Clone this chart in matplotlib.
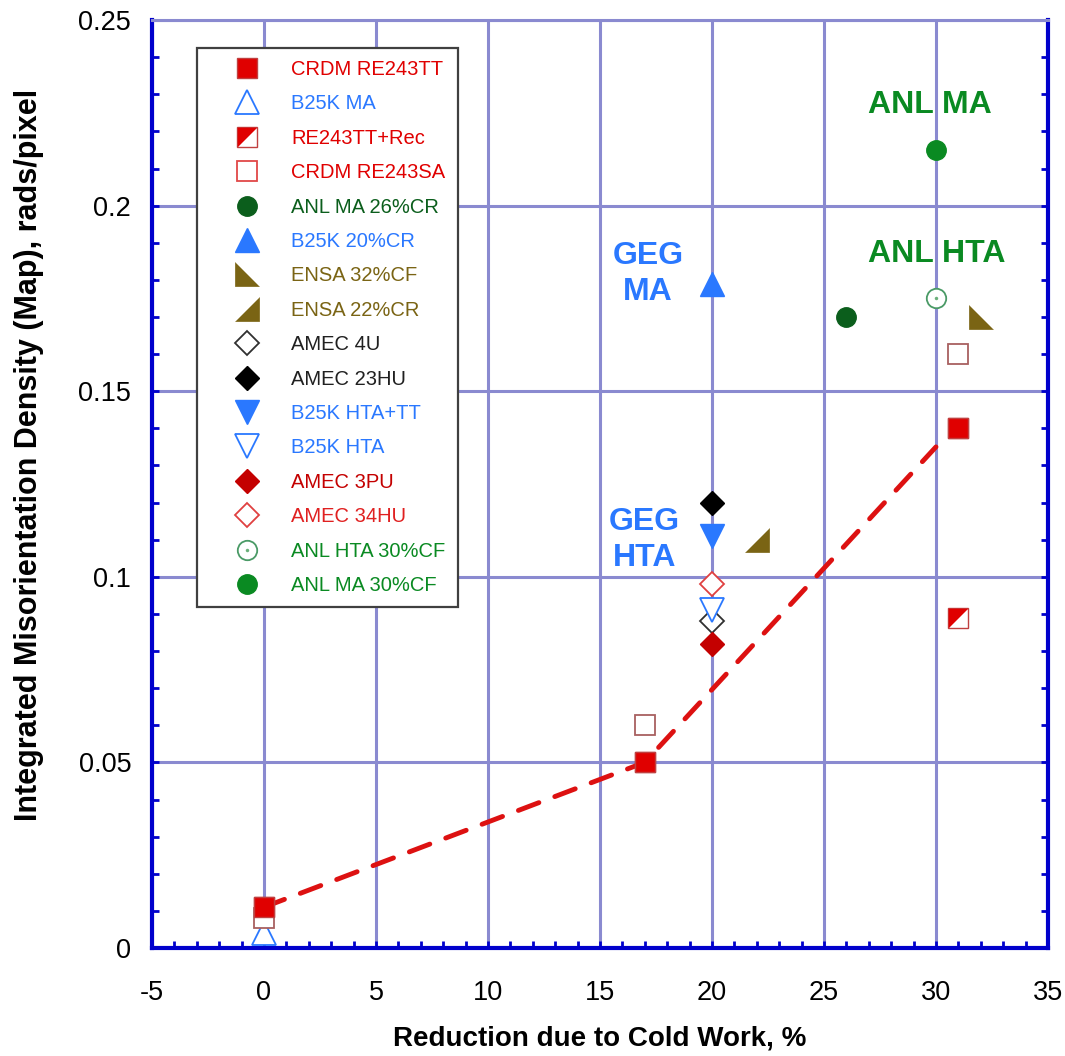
import numpy as np
import matplotlib
matplotlib.use("Agg")
import matplotlib.pyplot as plt
from matplotlib.lines import Line2D
from matplotlib.legend_handler import HandlerTuple
from matplotlib.ticker import MultipleLocator, FixedLocator, FixedFormatter

plt.rcParams['font.family'] = ['Liberation Sans', 'DejaVu Sans']
plt.rcParams['axes.unicode_minus'] = False

# data
crdm_tt_x = [0, 17, 31]
crdm_tt_y = [0.011, 0.050, 0.140]
b25k_ma_x = [0]
b25k_ma_y = [0.004]
rec_x = [31]
rec_y = [0.089]
crdm_sa_x = [0, 17, 31]
crdm_sa_y = [0.008, 0.060, 0.160]
anl_ma26_x = [26]
anl_ma26_y = [0.170]
b25k_20_x = [20]
b25k_20_y = [0.179]
ensa32_x = [32]
ensa32_y = [0.170]
ensa22_x = [22]
ensa22_y = [0.110]
amec4u_x = [20]
amec4u_y = [0.088]
amec23_x = [20]
amec23_y = [0.120]
b25k_htatt_x = [20]
b25k_htatt_y = [0.111]
b25k_hta_x = [20]
b25k_hta_y = [0.091]
amec3pu_x = [20]
amec3pu_y = [0.082]
amec34_x = [20]
amec34_y = [0.098]
anl_hta30_x = [30]
anl_hta30_y = [0.175]
anl_ma30_x = [30]
anl_ma30_y = [0.215]

trend_x = [0, 17, 30]
trend_y = [0.011, 0.050, 0.135]

xticks = [-5, 0, 5, 10, 15, 20, 25, 30, 35]
yticks = [0, 0.05, 0.1, 0.15, 0.2, 0.25]
ytick_labels = ['0', '0.05', '0.1', '0.15', '0.2', '0.25']

RED = '#e00000'
BLUE = '#2a78ff'
DKGREEN = '#0b5e1c'
GREEN = '#0a8a22'
OLIVE = '#7a6414'
DKRED = '#c40000'
GRID = '#8a8ad0'
SPINE = '#0000cc'

tri_ul = [(-1, 1), (1, 1), (-1, -1)]      # upper-left half of a square
ensa32_m = [(-1, 1), (-1, -1), (1, -1)]
ensa22_m = [(1, 1), (1, -1), (-1, -1)]

fig = plt.figure(figsize=(10.65, 10.56), dpi=100)
ax = fig.add_axes([0.1427, 0.1023, 0.8413, 0.8787])

ax.plot(trend_x, trend_y, color='#dd1111', lw=3.5, ls=(0, (4.5, 3.5)),
        dash_capstyle='round', zorder=2)

ms = 14
series = [
    # label, x, y, style, text colour
    ('CRDM RE243TT', crdm_tt_x, crdm_tt_y,
     dict(marker='s', mfc=RED, mec='#c04040', mew=1.0, ms=ms), RED),
    ('B25K MA', b25k_ma_x, b25k_ma_y,
     dict(marker='^', mfc='white', mec=BLUE, mew=1.3, ms=ms + 3), BLUE),
    ('RE243TT+Rec', rec_x, rec_y, None, RED),
    ('CRDM RE243SA', crdm_sa_x, crdm_sa_y,
     dict(marker='s', mfc='white', mec='#a86060', mew=1.3, ms=ms), RED),
    ('ANL MA 26%CR', anl_ma26_x, anl_ma26_y,
     dict(marker='o', mfc=DKGREEN, mec=DKGREEN, mew=1.0, ms=ms), DKGREEN),
    ('B25K 20%CR', b25k_20_x, b25k_20_y,
     dict(marker='^', mfc=BLUE, mec=BLUE, mew=1.0, ms=ms + 3), BLUE),
    ('ENSA 32%CF', ensa32_x, ensa32_y,
     dict(marker=ensa32_m, mfc=OLIVE, mec=OLIVE, mew=0.5, ms=ms + 3), OLIVE),
    ('ENSA 22%CR', ensa22_x, ensa22_y,
     dict(marker=ensa22_m, mfc=OLIVE, mec=OLIVE, mew=0.5, ms=ms + 3), OLIVE),
    ('AMEC 4U', amec4u_x, amec4u_y,
     dict(marker='D', mfc='white', mec='#303030', mew=1.3, ms=ms - 2), '#202020'),
    ('AMEC 23HU', amec23_x, amec23_y,
     dict(marker='D', mfc='black', mec='black', mew=1.0, ms=ms - 2), '#202020'),
    ('B25K HTA+TT', b25k_htatt_x, b25k_htatt_y,
     dict(marker='v', mfc=BLUE, mec=BLUE, mew=1.0, ms=ms + 3), BLUE),
    ('B25K HTA', b25k_hta_x, b25k_hta_y,
     dict(marker='v', mfc='white', mec=BLUE, mew=1.3, ms=ms + 3), BLUE),
    ('AMEC 3PU', amec3pu_x, amec3pu_y,
     dict(marker='D', mfc=DKRED, mec=DKRED, mew=1.0, ms=ms - 2), DKRED),
    ('AMEC 34HU', amec34_x, amec34_y,
     dict(marker='D', mfc='white', mec='#e04040', mew=1.3, ms=ms - 2), '#e02020'),
    ('ANL HTA 30%CF', anl_hta30_x, anl_hta30_y, None, GREEN),
    ('ANL MA 30%CF', anl_ma30_x, anl_ma30_y,
     dict(marker='o', mfc=GREEN, mec=GREEN, mew=1.0, ms=ms), GREEN),
]

handles = []
labels = []
text_colors = []
z = 3
for label, xs, ys, style, tcol in series:
    if label == 'RE243TT+Rec':
        sq = dict(marker='s', mfc='white', mec='#c04040', mew=1.0, ms=ms, ls='none')
        tr = dict(marker=tri_ul, mfc=RED, mec=RED, mew=0, ms=ms, ls='none')
        ax.plot(xs, ys, zorder=z, **sq)
        ax.plot(xs, ys, zorder=z, **tr)
        h = (Line2D([], [], **sq), Line2D([], [], **tr))
    elif label == 'ANL HTA 30%CF':
        ci = dict(marker='o', mfc='white', mec='#4a9a66', mew=1.3, ms=ms, ls='none')
        dot = dict(marker='o', mfc='#6ab07a', mec='none', ms=2.5, ls='none')
        ax.plot(xs, ys, zorder=z, **ci)
        ax.plot(xs, ys, zorder=z, **dot)
        h = (Line2D([], [], **ci), Line2D([], [], **dot))
    else:
        ax.plot(xs, ys, ls='none', zorder=z, **style)
        st = dict(style)
        if label == 'CRDM RE243SA':
            st['mec'] = '#e04848'
        h = Line2D([], [], ls='none', **st)
    handles.append(h)
    labels.append(label)
    text_colors.append(tcol)
    z += 0.01

# red filled squares drawn on top
ax.plot(crdm_tt_x, crdm_tt_y, ls='none', zorder=5, marker='s', mfc=RED,
        mec='#c04040', mew=1.0, ms=ms)

leg = ax.legend(handles, labels, handler_map={tuple: HandlerTuple(ndivide=1)},
                loc='upper left', bbox_to_anchor=(0.050, 0.970), borderaxespad=0,
                fontsize=14.5, labelspacing=0.765, handlelength=3.8,
                handletextpad=0.3, borderpad=0.6, fancybox=False,
                framealpha=1, edgecolor='#404040')
leg.get_frame().set_linewidth(1.6)
leg.set_zorder(10)
for txt, c in zip(leg.get_texts(), text_colors):
    txt.set_color(c)

# annotations
ax.text(29.75, 0.227, 'ANL MA', color=GREEN, fontsize=23, fontweight='bold',
        ha='center', va='center')
ax.text(30.05, 0.187, 'ANL HTA', color=GREEN, fontsize=23, fontweight='bold',
        ha='center', va='center')
ax.text(17.15, 0.1815, 'GEG\nMA', color=BLUE, fontsize=23, fontweight='bold',
        ha='center', va='center', linespacing=1.25)
ax.text(17.0, 0.110, 'GEG\nHTA', color=BLUE, fontsize=23, fontweight='bold',
        ha='center', va='center', linespacing=1.25)

ax.set_xlim(-5, 35)
ax.set_ylim(0, 0.25)
ax.xaxis.set_major_locator(FixedLocator(xticks))
ax.xaxis.set_minor_locator(MultipleLocator(1))
ax.yaxis.set_major_locator(FixedLocator(yticks))
ax.yaxis.set_major_formatter(FixedFormatter(ytick_labels))
ax.yaxis.set_minor_locator(MultipleLocator(0.01))

ax.grid(True, which='major', color=GRID, lw=2.2)
ax.set_axisbelow(True)

for side in ['left', 'bottom', 'right']:
    ax.spines[side].set_color(SPINE)
    ax.spines[side].set_linewidth(3)
ax.spines['top'].set_color(GRID)
ax.spines['top'].set_linewidth(2.2)

ax.tick_params(which='both', direction='in', color=SPINE, width=2, length=5,
               labelsize=19.5, right=True, top=False)
ax.tick_params(axis='x', pad=23)
ax.tick_params(axis='y', pad=15)

ax.set_xlabel('Reduction due to Cold Work, %', fontsize=20, fontweight='bold',
              labelpad=14)
ax.set_ylabel('Integrated Misorientation Density (Map), rads/pixel',
              fontsize=22, fontweight='bold')
ax.yaxis.set_label_coords(-0.12, 0.531)

fig.savefig('out.png', dpi=100)
